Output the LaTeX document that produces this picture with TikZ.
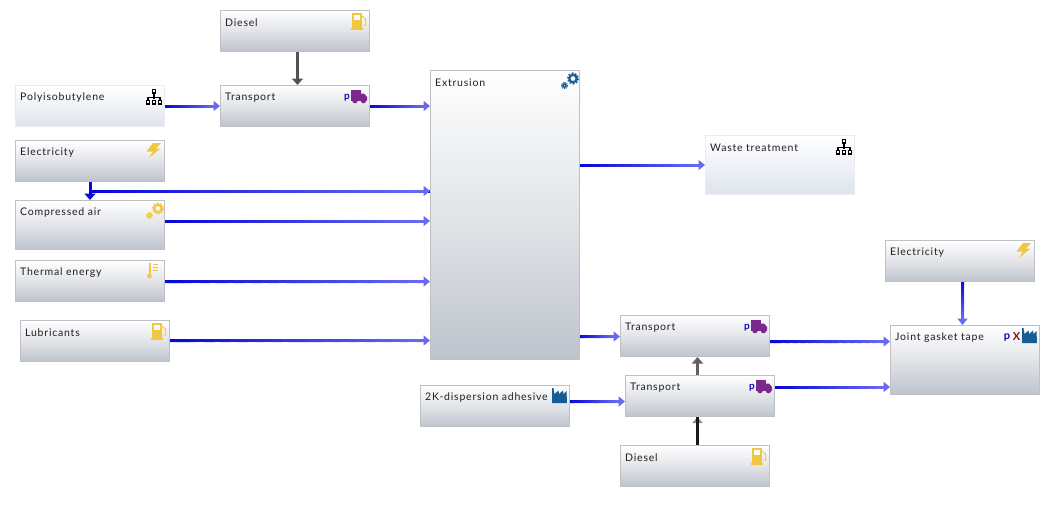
\documentclass[tikz,border=0pt]{standalone}
\usepackage{fontspec}
\setmainfont{Lato}[LetterSpace=7.5]
\usetikzlibrary{arrows.meta,calc}
\definecolor{flowdark}{RGB}{8,8,215}
\definecolor{flowlight}{RGB}{105,105,240}
\definecolor{boxbot}{RGB}{190,195,204}
\definecolor{boxline}{RGB}{190,192,198}
\definecolor{lightbot}{RGB}{222,227,237}
\definecolor{icony}{RGB}{243,198,66}
\definecolor{iconb}{RGB}{22,92,150}
\definecolor{iconp}{RGB}{122,40,140}
\definecolor{pblue}{RGB}{10,10,190}
\definecolor{xred}{RGB}{140,15,15}
\tikzset{
  x=1pt,y=-1pt,
  procbox/.style={anchor=north west,inner sep=0pt,minimum width=149pt,draw=boxline,line width=1pt,top color=white,bottom color=boxbot,middle color=boxbot!45!white},
  lightbox/.style={anchor=north west,inner sep=0pt,minimum width=149pt,draw=lightbot!70!white,line width=1pt,top color=white,bottom color=lightbot},
  boxtext/.style={anchor=west,inner sep=0pt,font=\fontsize{10.5}{12}\selectfont,text=black!88},
  flowbase/.style={draw=flowlight,line width=3pt,-{Triangle[width=10pt,length=6.5pt]}},
  pull/.style={draw=black!68,line width=3pt,-{Triangle[width=11pt,length=6.5pt]}},
  pics/pump/.style={code={
    \fill[#1] (-18,3) rectangle (-8,18.5);
    \fill[white] (-16,5) rectangle (-10,10);
    \fill[#1] (-19,17.5) rectangle (-7,19.5);
    \draw[#1,line width=.9pt] (-8,6) -- (-4.5,9) -- (-4,15) -- (-7,15);
  }},
  pics/hier/.style={code={
    \draw[black,line width=1.3pt] (-11,8) -- (-11,14) (-17,16) -- (-17,12.5) -- (-5,12.5) -- (-5,16);
    \draw[black,line width=1.1pt,fill=white] (-12.7,4.5) rectangle (-9.3,8);
    \foreach \q in {-17,-11,-5}{\draw[black,line width=1.1pt,fill=white] (\q-1.7,15.5) rectangle (\q+1.7,19);}
  }},
  pics/truck/.style={code={
    \fill[iconp] (-19,5) rectangle (-9.5,15.5);
    \fill[iconp] (-9.5,8.5) -- (-6,8.5) -- (-3,12) -- (-3,15.5) -- (-9.5,15.5) -- cycle;
    \fill[iconp] (-15,15.5) circle (2.8) (-6.5,15.5) circle (2.8);
    \node[inner sep=0pt,text=pblue,font=\fontsize{10}{10}\bfseries\selectfont] at (-23,13) {p};
  }},
  pics/bolt/.style={code={
    \fill[icony] (-12,3) -- (-4,3) -- (-9,8.5) -- (-4.5,8.5) -- (-16,18) -- (-12,11.5) -- (-18.5,11.5) -- cycle;
  }},
  pics/gears/.style={code={
    \draw[#1,line width=2pt] (-7,8.5) circle (3.6);
    \draw[#1,line width=1.8pt,dash pattern=on 1.9pt off 1.3pt] (-7,8.5) circle (5.2);
    \draw[#1,line width=1.5pt] (-15.5,15.5) circle (1.9);
    \draw[#1,line width=1.1pt,dash pattern=on 1.1pt off .9pt] (-15.5,15.5) circle (3);
  }},
  pics/thermo/.style={code={
    \fill[icony] (-16.5,3) rectangle (-14.5,15);
    \fill[icony] (-15.5,16) circle (2.3);
    \draw[icony,line width=.8pt] (-12,4.5) -- (-7,4.5) (-12,7.5) -- (-7,7.5) (-12,10.5) -- (-7,10.5);
  }},
  pics/factory/.style={code={
    \fill[iconb] (-18,3) -- (-16.5,3) -- (-15.5,9) -- (-11.5,5.5) -- (-11,9) -- (-7,5.5) -- (-6.5,9) -- (-3.5,6) -- (-3,18) -- (-18,18) -- cycle;
  }},
}
\newcommand{\flow}[2]{%
  \draw[flowbase] (#1) -- (#2);
  \coordinate (fs) at (#1);
  \coordinate (ft) at (#2);
  \coordinate (fe) at ($(ft)!6pt!(fs)$);
  \foreach \i in {0,...,29}{%
    \pgfmathsetmacro\ja{\i/30}%
    \pgfmathsetmacro\jb{(\i+1.2)/30}%
    \pgfmathsetmacro\m{\i*100/29}%
    \draw[color=flowlight!\m!flowdark,line width=3pt] ($(fs)!\ja!(fe)$) -- ($(fs)!\jb!(fe)$);
  }%
}
\begin{document}
\begin{tikzpicture}
\useasboundingbox (0,0) rectangle (1056,507);
% boxes
\node[procbox,minimum height=41pt] (dieselA) at (220,10) {};
\node[lightbox,minimum height=41pt] (poly) at (15,85) {};
\node[procbox,minimum height=41pt] (transA) at (220,85) {};
\node[procbox,minimum height=41pt] (elecA) at (15,140) {};
\node[procbox,minimum height=49pt] (air) at (15,200) {};
\node[procbox,minimum height=41pt] (thermal) at (15,260) {};
\node[procbox,minimum height=41pt] (lub) at (20,320) {};
\node[procbox,minimum height=289pt] (ext) at (430,70) {};
\node[lightbox,minimum height=59pt] (waste) at (705,135) {};
\node[procbox,minimum height=41pt] (transB) at (620,315) {};
\node[procbox,minimum height=41pt] (transC) at (625,375) {};
\node[procbox,minimum height=41pt] (adh) at (420,385) {};
\node[procbox,minimum height=41pt] (dieselB) at (620,445) {};
\node[procbox,minimum height=41pt] (elecB) at (885,240) {};
\node[procbox,minimum height=69pt] (joint) at (890,325) {};
% labels
\node[boxtext] (tDieselA) at ($(dieselA.north west)+(5,12.5)$) {Diesel};
\node[boxtext] (tPoly) at ($(poly.north west)+(5,12.5)$) {Polyisobutylene};
\node[boxtext] (tTransA) at ($(transA.north west)+(5,12.5)$) {Transport};
\node[boxtext] (tElecA) at ($(elecA.north west)+(5,12.5)$) {Electricity};
\node[boxtext] (tAir) at ($(air.north west)+(5,12.5)$) {Compressed air};
\node[boxtext] (tThermal) at ($(thermal.north west)+(5,12.5)$) {Thermal energy};
\node[boxtext] (tLub) at ($(lub.north west)+(5,12.5)$) {Lubricants};
\node[boxtext] (tExt) at ($(ext.north west)+(5,12.5)$) {Extrusion};
\node[boxtext] (tWaste) at ($(waste.north west)+(5,12.5)$) {Waste treatment};
\node[boxtext] (tTransB) at ($(transB.north west)+(5,12.5)$) {Transport};
\node[boxtext] (tTransC) at ($(transC.north west)+(5,12.5)$) {Transport};
\node[boxtext] (tAdh) at ($(adh.north west)+(5,12.5)$) {2K-dispersion adhesive};
\node[boxtext] (tDieselB) at ($(dieselB.north west)+(5,12.5)$) {Diesel};
\node[boxtext] (tElecB) at ($(elecB.north west)+(5,12.5)$) {Electricity};
\node[boxtext] (tJoint) at ($(joint.north west)+(5,12.5)$) {Joint gasket tape};
% icons
\pic at (dieselA.north east) {pump=icony};
\pic at (lub.north east) {pump=icony};
\pic at (dieselB.north east) {pump=icony};
\pic at (poly.north east) {hier};
\pic at (waste.north east) {hier};
\pic at (transA.north east) {truck};
\pic at (transB.north east) {truck};
\pic at (transC.north east) {truck};
\pic at (elecA.north east) {bolt};
\pic at (elecB.north east) {bolt};
\pic at (air.north east) {gears=icony};
\pic at (ext.north east) {gears=iconb};
\pic at (thermal.north east) {thermo};
\pic at (adh.north east) {factory};
\pic at (joint.north east) {factory};
\node[inner sep=0pt,text=xred,font=\fontsize{11}{11}\bfseries\selectfont] (xmark) at ($(joint.north east)+(-23.5,11.5)$) {X};
\node[inner sep=0pt,text=pblue,font=\fontsize{11}{11}\bfseries\selectfont] (pmark) at ($(joint.north east)+(-33,13)$) {p};
% connectors
\draw[pull] (dieselA.south -| 297.5,0) -- (transA.north -| 297.5,0);
\flow{poly.east |- 0,106}{transA.west |- 0,106}
\flow{transA.east |- 0,106}{ext.west |- 0,106}
\draw[flowdark,line width=3pt] (elecA.south) |- (ext.west |- 0,191);
\flow{elecA.south |- 0,191}{ext.west |- 0,191}
\draw[flowdark,line width=3pt,-{Triangle[width=11pt,length=6.5pt]}] (elecA.south) -- (air.north);
\flow{air.east |- 0,221}{ext.west |- 0,221}
\flow{thermal.east |- 0,281.5}{ext.west |- 0,281.5}
\flow{lub.east |- 0,340.5}{ext.west |- 0,340.5}
\flow{ext.east |- 0,165}{waste.west |- 0,165}
\flow{ext.east |- 0,336.5}{transB.west |- 0,336.5}
\flow{transB.east |- 0,341.5}{joint.west |- 0,341.5}
\flow{transC.east |- 0,387}{joint.west |- 0,387}
\flow{adh.east |- 0,401.5}{transC.west |- 0,401.5}
\draw[pull,draw=black!62] (transC.north -| 697.5,0) -- (transB.south -| 697.5,0);
\draw[pull,draw=black!45,-{Triangle[width=10pt,length=6pt]}] (dieselB.north -| 697.5,0) -- (transC.south -| 697.5,0);
\draw[black!90,line width=3pt] (dieselB.north -| 697.5,0) -- (transC.south -| 697.5,0);
\flow{elecB.south -| 962.5,0}{joint.north -| 962.5,0}
\end{tikzpicture}
\end{document}
